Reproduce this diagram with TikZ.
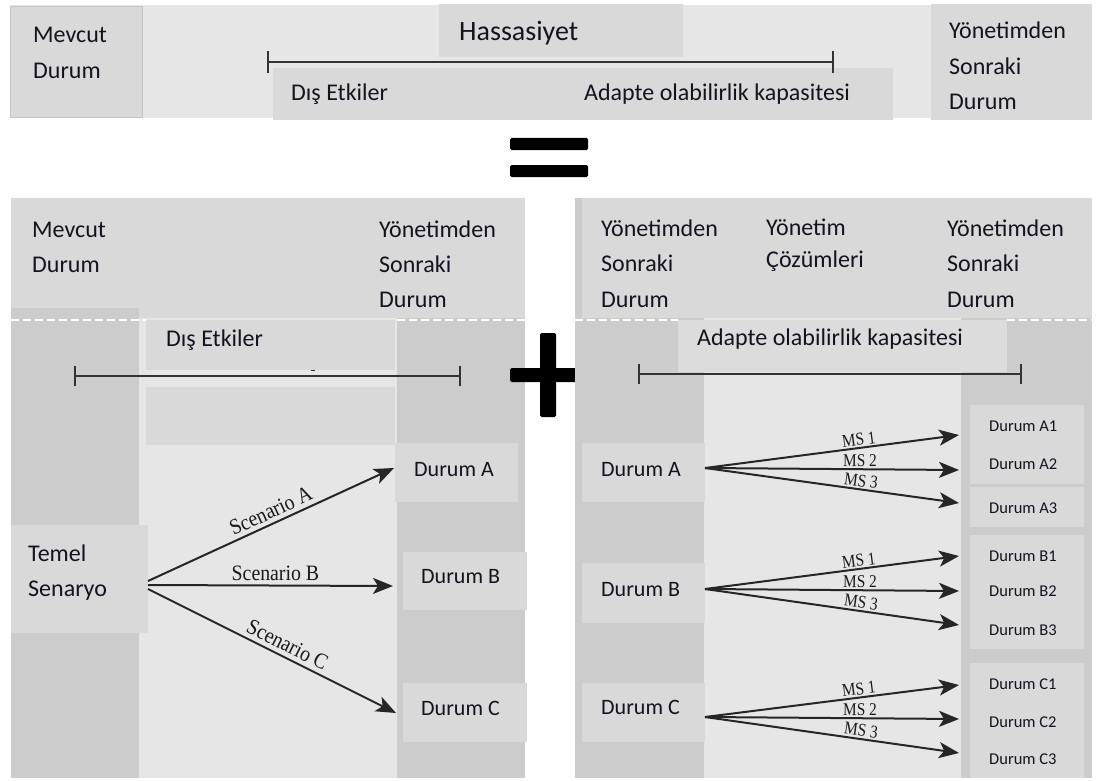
\documentclass[tikz,border=0pt]{standalone}
\usepackage{fontspec}
\setmainfont{Carlito}
\newfontfamily\scenfont[FakeStretch=0.9]{Liberation Serif}
\newfontfamily\msfont[FakeStretch=0.85]{Liberation Serif}
\usetikzlibrary{arrows.meta}

\definecolor{txt}{HTML}{14141E}
\definecolor{lightbg}{HTML}{E6E6E6}
\definecolor{boxmid}{HTML}{D9D9D9}
\definecolor{boxpale}{HTML}{DCDCDC}
\definecolor{coldark}{HTML}{CCCCCC}
\definecolor{edge}{HTML}{C6C6C6}

\begin{document}
\begin{tikzpicture}[x=1pt,y=-1pt,
  lab/.style={anchor=base west, inner sep=0pt, text=txt, font=\fontsize{24}{28}\selectfont},
  durlab/.style={anchor=base west, inner sep=0pt, text=txt, font=\fontsize{22}{26}\selectfont},
  smalllab/.style={anchor=base west, inner sep=0pt, text=txt, font=\fontsize{16.5}{18}\selectfont},
  panel/.style={rectangle, inner sep=0pt, outer sep=0pt, fill=boxmid},
  span/.style={draw=black!80, line width=1.6pt},
  tick/.style={draw=black!80, line width=1.6pt},
  sep/.style={draw=white, line width=1.4pt, dash pattern=on 8pt off 4pt},
  arr/.style={draw=black!85, line width=2pt, -{Stealth[length=20pt,width=16pt,inset=5pt]}},
  scen/.style={sloped, above=2pt, inner sep=2pt, text=black!90, font=\scenfont\fontsize{22}{22}\selectfont},
  ms/.style={sloped, above=1pt, inner sep=0.5pt, pos=0.61, text=black!90, font=\msfont\fontsize{18}{18}\selectfont},
  bar/.style={fill=black, rounded corners=1.5pt}
]
\useasboundingbox (0,0) rectangle (1097,781);

% ---------------- top band ----------------
\fill[lightbg] (10,5) rectangle (1092,118);
\fill[boxmid, draw=edge, line width=0.8pt] (10,6) rectangle (142,117);
\fill[boxmid] (439,4) rectangle (683,57);
\fill[boxmid] (273,68) rectangle (893,120);
\fill[boxmid] (931,4) rectangle (1092,120);

\node[lab] (t-mev1) at (33,43) {Mevcut};
\node[lab] (t-mev2) at (33,79) {Durum};
\node[lab, font=\fontsize{28}{32}\selectfont] (t-hass) at (459,41) {Hassasiyet};
\node[lab] (t-dis) at (291,101) {Dış Etkiler};
\node[lab] (t-ada) at (584,101) {Adapte olabilirlik kapasitesi};
\node[lab] (t-yon1) at (949,39) {Yönetimden};
\node[lab] (t-yon2) at (949,75) {Sonraki};
\node[lab] (t-yon3) at (949,110) {Durum};

\coordinate (hL) at (268,62);
\coordinate (hR) at (833,62);
\draw[span] (hL) -- (hR);
\draw[tick] (268,51) -- (268,73);
\draw[tick] (833,51) -- (833,73);

% equals sign
\fill[bar] (510,138) rectangle (588,150);
\fill[bar] (510,165) rectangle (588,177);

% ---------------- lower left panel ----------------
\fill[boxmid] (11,198) rectangle (525,318);
\fill[coldark] (11,308) rectangle (139,778);
\fill[lightbg] (139,318) rectangle (397,778);
\fill[coldark] (397,318) rectangle (525,778);
\fill[boxmid] (146,320) rectangle (395,370);
\fill[boxmid] (146,387) rectangle (395,445);
\draw[sep] (11,320) -- (146,320);
\draw[sep] (397,320) -- (525,320);

\node[lab] (l-mev1) at (32,237) {Mevcut};
\node[lab] (l-mev2) at (32,272) {Durum};
\node[lab] (l-yon1) at (379,237) {Yönetimden};
\node[lab] (l-yon2) at (379,272) {Sonraki};
\node[lab] (l-yon3) at (379,307) {Durum};
\node[lab] (l-dis) at (166,346) {Dış Etkiler};

\draw[span] (75,376) -- (460,376);
\draw[tick] (75,366) -- (75,386);
\draw[tick] (460,366) -- (460,386);
\draw[black!80, line width=1.2pt] (311,370.5) -- (315,370.5);

\node[panel, minimum width=137pt, minimum height=108pt] (temel) at (79.5,579) {};
\node[panel, minimum width=123pt, minimum height=59pt] (lA) at (456.5,472.5) {};
\node[panel, minimum width=124pt, minimum height=58pt] (lB) at (465,581) {};
\node[panel, minimum width=124pt, minimum height=59pt] (lC) at (465,712.5) {};

\node[lab] (l-tem1) at (28,561) {Temel};
\node[lab] (l-tem2) at (28,596) {Senaryo};
\node[durlab] (l-dA) at (414,476) {Durum A};
\node[durlab] (l-dB) at (421,583) {Durum B};
\node[durlab] (l-dC) at (421,715) {Durum C};

\coordinate (fanL) at (temel.east);
\coordinate (tipA) at (394,468);
\coordinate (tipB) at (393,586);
\coordinate (tipC) at (396,713);
\draw[arr] ([yshift=-2pt]fanL) -- (tipA) node[scen, pos=0.52] {Scenario A};
\draw[arr] ([yshift=-6pt]fanL) -- (tipB) node[scen, pos=0.52] {Scenario B};
\draw[arr] ([yshift=-10pt]fanL) -- (tipC) node[scen, pos=0.54] {Scenario C};

% plus sign
\fill[bar] (540,333) rectangle (556,417);
\fill[bar] (510,368) rectangle (590,382);

% ---------------- lower right panel ----------------
\fill[boxmid] (575,198) rectangle (1092,318);
\fill[coldark] (575,198) rectangle (582,318);
\fill[coldark] (575,318) rectangle (704,778);
\fill[lightbg] (704,318) rectangle (961,778);
\fill[coldark] (961,318) rectangle (1092,778);
\fill[boxpale] (678,320) rectangle (1007,372);
\draw[sep] (575,320) -- (678,320);
\draw[sep] (1007,320) -- (1092,320);

\node[lab] (r-yon1) at (601,236) {Yönetimden};
\node[lab] (r-yon2) at (601,271) {Sonraki};
\node[lab] (r-yon3) at (601,307) {Durum};
\node[lab] (r-coz1) at (766,235) {Yönetim};
\node[lab] (r-coz2) at (766,267) {Çözümleri};
\node[lab] (r-son1) at (947,236) {Yönetimden};
\node[lab] (r-son2) at (947,271) {Sonraki};
\node[lab] (r-son3) at (947,307) {Durum};
\node[lab] (r-ada) at (697,345) {Adapte olabilirlik kapasitesi};

\draw[span] (639,374) -- (1021,374);
\draw[tick] (639,364) -- (639,384);
\draw[tick] (1021,364) -- (1021,384);

\node[panel, minimum width=123pt, minimum height=59pt] (rA) at (643.5,472.5) {};
\node[panel, minimum width=123pt, minimum height=60pt] (rB) at (643.5,593) {};
\node[panel, minimum width=123pt, minimum height=59pt] (rC) at (643.5,712.5) {};
\node[durlab] (r-dA) at (601,476) {Durum A};
\node[durlab] (r-dB) at (601,596) {Durum B};
\node[durlab] (r-dC) at (601,714) {Durum C};

\node[panel, minimum width=114pt, minimum height=79pt] (gA) at (1027,444.5) {};
\node[panel, minimum width=114pt, minimum height=40pt] (gA3) at (1027,507) {};
\node[panel, minimum width=114pt, minimum height=114pt] (gB) at (1027,592) {};
\node[panel, minimum width=114pt, minimum height=115pt] (gC) at (1027,720.5) {};

\node[smalllab] (a1) at (989,431) {Durum A1};
\node[smalllab] (a2) at (989,469) {Durum A2};
\node[smalllab] (a3) at (989,513) {Durum A3};
\node[smalllab] (b1) at (989,561) {Durum B1};
\node[smalllab] (b2) at (989,596) {Durum B2};
\node[smalllab] (b3) at (989,635) {Durum B3};
\node[smalllab] (c1) at (989,689) {Durum C1};
\node[smalllab] (c2) at (989,727) {Durum C2};
\node[smalllab] (c3) at (989,764) {Durum C3};

\coordinate (oA) at (705,468);
\coordinate (oB) at (705,589);
\coordinate (oC) at (705,717);
\coordinate (ta1) at (959,435);
\coordinate (ta2) at (959,470);
\coordinate (ta3) at (959,503);
\coordinate (tb1) at (959,556);
\coordinate (tb2) at (959,591);
\coordinate (tb3) at (959,625);
\coordinate (tc1) at (959,685);
\coordinate (tc2) at (959,719);
\coordinate (tc3) at (959,753);

\draw[arr] (oA) -- (ta1) node[ms] {MS 1};
\draw[arr] (oA) -- (ta2) node[ms] {MS 2};
\draw[arr] (oA) -- (ta3) node[ms] {MS 3};
\draw[arr] (oB) -- (tb1) node[ms] {MS 1};
\draw[arr] (oB) -- (tb2) node[ms] {MS 2};
\draw[arr] (oB) -- (tb3) node[ms] {MS 3};
\draw[arr] (oC) -- (tc1) node[ms] {MS 1};
\draw[arr] (oC) -- (tc2) node[ms] {MS 2};
\draw[arr] (oC) -- (tc3) node[ms] {MS 3};
\end{tikzpicture}
\end{document}
